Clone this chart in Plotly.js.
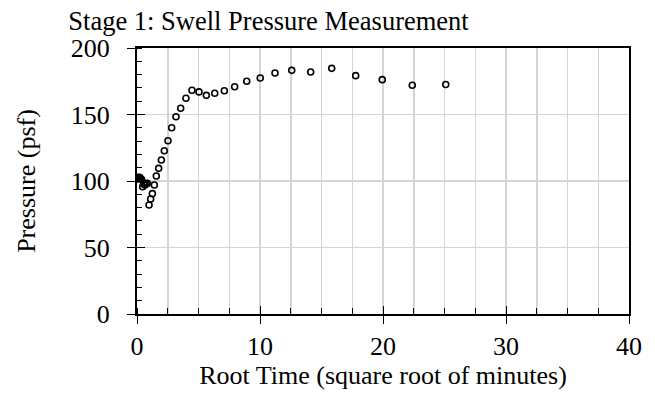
<!DOCTYPE html>
<html>
<head>
<meta charset="utf-8">
<script src="https://cdn.plot.ly/plotly-3.0.1.min.js"></script>
<style>html,body{margin:0;padding:0;background:#fff}#chart{width:655px;height:398px}</style>
</head>
<body>
<div id="chart"></div>
<script>
const rootTime = [0, 0.08, 0.15, 0.24, 0.32, 0.38, 0.46, 0.56, 0.65, 0.75, 0.84, 0.98, 1.11, 1.25, 1.41, 1.57, 1.76, 1.98, 2.22, 2.52, 2.82, 3.17, 3.55, 3.98, 4.47, 5.04, 5.64, 6.32, 7.10, 7.94, 8.92, 10.02, 11.22, 12.58, 14.12, 15.83, 17.78, 19.94, 22.38, 25.10];
const pressure = [101.5, 102.5, 102.8, 102.5, 101.5, 101, 95.7, 97.5, 97, 98, 98.2, 82, 86.5, 90.5, 97, 103.8, 109.5, 115.8, 122.8, 130.3, 140, 148.3, 154.7, 162.2, 168.2, 167, 164.4, 166, 167.9, 170.9, 175, 177.4, 181.2, 183.2, 182, 184.7, 179.2, 176.2, 172, 172.6];
const xTicks = [0, 10, 20, 30, 40];
const yTicks = [0, 50, 100, 150, 200];
const titleText = 'Stage 1: Swell Pressure Measurement';
const xTitle = 'Root Time (square root of minutes)';
const yTitle = 'Pressure (psf)';

const font = 'Liberation Serif, Times New Roman, serif';
const fs = 26;
const trace = {
  x: rootTime, y: pressure, type: 'scatter', mode: 'markers',
  marker: {symbol: 'circle-open', size: 6, color: 'black', line: {width: 1.6, color: 'black'}},
  hoverinfo: 'skip', showlegend: false
};
const layout = {
  width: 655, height: 398,
  margin: {l: 137, r: 26, t: 48, b: 84},
  paper_bgcolor: '#fff', plot_bgcolor: '#fff',
  font: {family: font, color: '#000', size: fs},
  title: {text: titleText, font: {family: font, size: 26.5, color: '#000'}, x: 0.41, xref: 'container', xanchor: 'center', y: 0.925, yref: 'container', yanchor: 'bottom'},
  xaxis: {
    range: [0, 40], tickvals: xTicks, ticktext: xTicks.map(String),
    showline: true, linecolor: '#000', linewidth: 2, mirror: true,
    ticks: 'outside', ticklen: 8, tickwidth: 1, tickcolor: '#000',
    showgrid: true, gridcolor: '#d4d4d4', gridwidth: 1.5, zeroline: false,
    minor: {dtick: 2.5, ticks: 'inside', ticklen: 6, tickcolor: '#000', tickwidth: 1, showgrid: true, gridcolor: '#d4d4d4', gridwidth: 1.5},
    tickfont: {family: font, size: fs, color: '#000'},
    title: {text: xTitle, font: {family: font, size: fs, color: '#000'}, standoff: 4}
  },
  xaxis2: {
    range: [0, 40], overlaying: 'x', side: 'bottom', tickvals: xTicks,
    showticklabels: false, showgrid: false, zeroline: false, showline: false,
    ticks: 'inside', ticklen: 8, tickcolor: '#000', tickwidth: 1
  },
  yaxis: {
    range: [0, 200], tickvals: yTicks, ticktext: yTicks.map(String),
    showline: true, linecolor: '#000', linewidth: 2, mirror: true,
    ticks: 'outside', ticklen: 8, tickwidth: 1, tickcolor: '#000',
    showgrid: true, gridcolor: '#d4d4d4', gridwidth: 1.5, zeroline: false,
    minor: {dtick: 10, ticks: 'inside', ticklen: 5, tickcolor: '#000', tickwidth: 1, showgrid: false},
    tickfont: {family: font, size: fs, color: '#000'}, ticklabelstandoff: 12,
    title: {text: yTitle, font: {family: font, size: fs, color: '#000'}, standoff: 28}
  },
  yaxis2: {
    range: [0, 200], overlaying: 'y', side: 'left', tickvals: yTicks,
    showticklabels: false, showgrid: false, zeroline: false, showline: false,
    ticks: 'inside', ticklen: 8, tickcolor: '#000', tickwidth: 1
  }
};
const ghost = {x: [], y: [], xaxis: 'x2', yaxis: 'y2', type: 'scatter', showlegend: false, hoverinfo: 'skip'};
Plotly.newPlot('chart', [trace, ghost], layout, {displayModeBar: false, staticPlot: true});
</script>
</body>
</html>
